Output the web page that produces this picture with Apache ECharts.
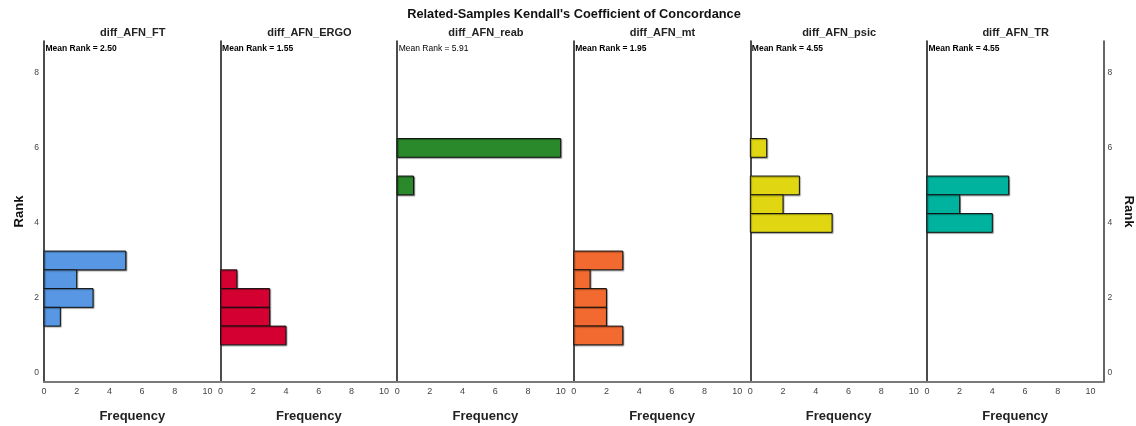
<!DOCTYPE html>
<html>
<head>
<meta charset="utf-8">
<script src="https://cdn.jsdelivr.net/npm/echarts@6/dist/echarts.min.js"></script>
<style>
  html, body { margin: 0; padding: 0; background: #fff; }
  #chart { width: 1136px; height: 426px; }
</style>
</head>
<body>
<div id="chart"></div>
<script>
// Variables compared, one histogram panel each
const variables = ['diff_AFN_FT', 'diff_AFN_ERGO', 'diff_AFN_reab', 'diff_AFN_mt', 'diff_AFN_psic', 'diff_AFN_TR'];
const meanRanks = [2.50, 1.55, 5.91, 1.95, 4.55, 4.55];
const panelColors = ['#5797E3', '#D50032', '#2A892A', '#F26A2F', '#E0D612', '#00B39E'];

// Rank bins (bin centres) and their frequencies for each variable
const ftRanks   = [3, 2.5, 2, 1.5];
const ftFreq    = [5, 2, 3, 1];
const ergoRanks = [2.5, 2, 1.5, 1];
const ergoFreq  = [1, 3, 3, 4];
const reabRanks = [6, 5];
const reabFreq  = [10, 1];
const mtRanks   = [3, 2.5, 2, 1.5, 1];
const mtFreq    = [3, 1, 2, 2, 3];
const psicRanks = [6, 5, 4.5, 4];
const psicFreq  = [1, 3, 2, 5];
const trRanks   = [5, 4.5, 4];
const trFreq    = [5, 2, 4];

const rankBins = [ftRanks, ergoRanks, reabRanks, mtRanks, psicRanks, trRanks];
const freqBins = [ftFreq, ergoFreq, reabFreq, mtFreq, psicFreq, trFreq];

// Axis ticks
const rankTicks = [0, 2, 4, 6, 8];
const freqTicks = [0, 2, 4, 6, 8, 10];
const BIN_WIDTH = 0.5;

const FONT = '"Liberation Sans", Arial, Helvetica, sans-serif';
const plotLeft = 44, plotRight = 1103.5, plotTop = 41, plotHeight = 341;
const panelW = (plotRight - plotLeft) / variables.length;
const rankMin = -0.24, rankMax = 8.85;
const freqMax = 10.8;

const grids = [], xAxes = [], yAxes = [], series = [], titles = [];

titles.push({
  text: "Related-Samples Kendall's Coefficient of Concordance",
  left: 574, top: 7.5, textAlign: 'center', padding: 0,
  textStyle: { fontFamily: FONT, fontSize: 12.8, fontWeight: 'bold', color: '#111' }
});

variables.forEach((name, i) => {
  const left = plotLeft + i * panelW;
  grids.push({
    left: left, top: plotTop, width: panelW, height: plotHeight,
    containLabel: false, outerBoundsMode: 'none'
  });

  titles.push({
    text: name, left: left + panelW / 2 + 0.5, top: 27, textAlign: 'center', padding: 0,
    textStyle: { fontFamily: FONT, fontSize: 11, fontWeight: 'bold', color: '#222' }
  });
  titles.push({
    text: 'Mean Rank = ' + meanRanks[i].toFixed(2), left: left + 1.5, top: 44, padding: 0,
    textStyle: { fontFamily: FONT, fontSize: 8.5, fontWeight: i === 2 ? 'normal' : 'bold', color: '#000' }
  });

  xAxes.push({
    gridIndex: i, type: 'value', min: 0, max: freqMax, interval: 2,
    name: 'Frequency', nameLocation: 'middle', nameGap: 28,
    nameTextStyle: { fontFamily: FONT, fontSize: 13, fontWeight: 'bold', color: '#222' },
    axisLine: { show: true, onZero: false, lineStyle: { color: '#7a7a7a', width: 2 } },
    axisTick: { show: false },
    splitLine: { show: false },
    axisLabel: { customValues: freqTicks, fontFamily: FONT, fontSize: 9, color: '#444', margin: 5.5 }
  });

  yAxes.push({
    gridIndex: i, type: 'value', min: rankMin, max: rankMax, position: 'left',
    name: i === 0 ? 'Rank' : '', nameLocation: 'middle', nameGap: 18,
    nameTextStyle: { fontFamily: FONT, fontSize: 13, fontWeight: 'bold', color: '#111' },
    axisLine: { show: true, onZero: false, lineStyle: { color: '#111', width: 1.5 } },
    axisTick: { show: false },
    splitLine: { show: false },
    axisLabel: { show: i === 0, customValues: rankTicks, fontFamily: FONT, fontSize: 8.5, color: '#444', margin: 5 }
  });

  const color = panelColors[i];
  series.push({
    type: 'custom',
    xAxisIndex: i, yAxisIndex: i,
    data: freqBins[i].map((f, k) => [f, rankBins[i][k]]),
    encode: { x: 0, y: 1 },
    renderItem: function (params, api) {
      const freq = api.value(0), rank = api.value(1);
      const p0 = api.coord([0, rank + BIN_WIDTH / 2]);
      const p1 = api.coord([freq, rank - BIN_WIDTH / 2]);
      return {
        type: 'rect',
        shape: { x: p0[0], y: p0[1], width: p1[0] - p0[0], height: p1[1] - p0[1] },
        style: {
          fill: color, stroke: '#111', lineWidth: 1,
          shadowColor: 'rgba(0,0,0,0.35)', shadowOffsetX: 1, shadowOffsetY: 1, shadowBlur: 1
        }
      };
    }
  });
});

// Rank axis repeated on the right edge of the last panel
yAxes.push({
  gridIndex: variables.length - 1, type: 'value', min: rankMin, max: rankMax, position: 'right',
  name: 'Rank', nameLocation: 'middle', nameGap: 19, nameRotate: -90,
  nameTextStyle: { fontFamily: FONT, fontSize: 13, fontWeight: 'bold', color: '#111' },
  axisLine: { show: true, onZero: false, lineStyle: { color: '#333', width: 1.5 } },
  axisTick: { show: false },
  splitLine: { show: false },
  axisLabel: { customValues: rankTicks, fontFamily: FONT, fontSize: 8.5, color: '#444', margin: 4 }
});

const chart = echarts.init(document.getElementById('chart'), null, { renderer: 'canvas' });
chart.setOption({
  animation: false,
  backgroundColor: '#ffffff',
  title: titles,
  grid: grids,
  xAxis: xAxes,
  yAxis: yAxes,
  series: series
});
</script>
</body>
</html>
